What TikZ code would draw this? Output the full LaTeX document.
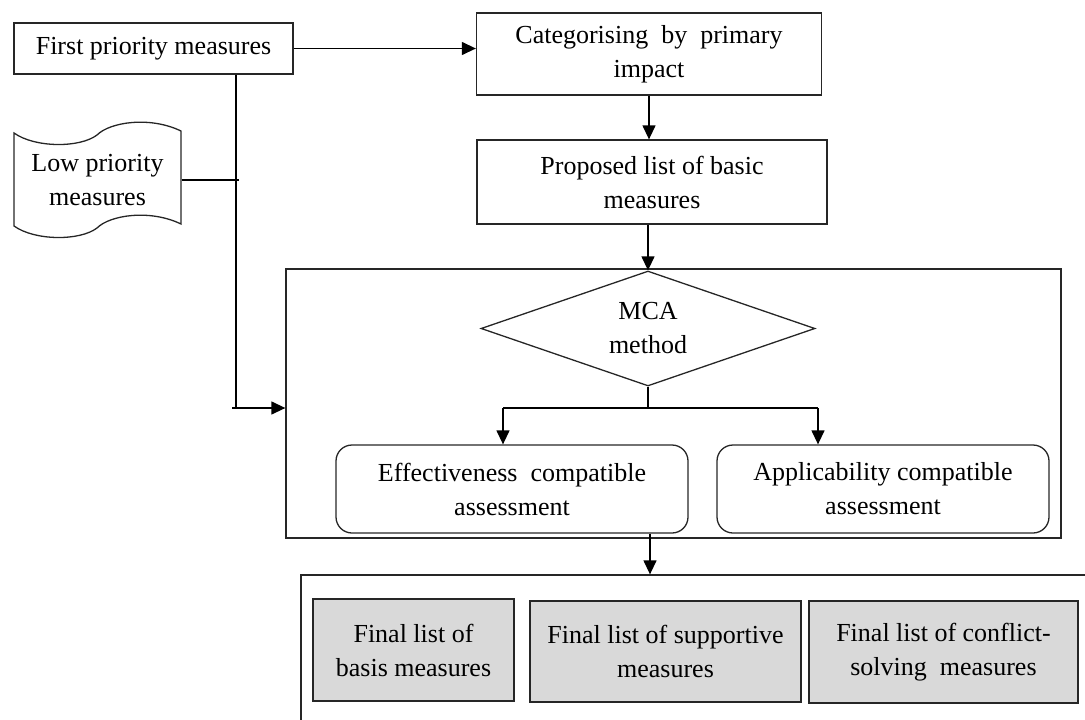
\documentclass[tikz,border=0pt]{standalone}
\usepackage{fontspec}
\setmainfont{Liberation Serif}
\usetikzlibrary{arrows.meta,shapes.geometric}
\begin{document}
\begin{tikzpicture}[x=1pt,y=-1pt,
  font=\fontsize{26}{34}\selectfont,
  line width=1.3pt,
  box/.style={draw=black!85,rectangle,inner sep=0pt,align=center},
  rbox/.style={box,rounded corners=16pt},
  gbox/.style={box,fill=black!15},
  link/.style={draw=black,line width=1.3pt},
  arrow/.style={link,-{Triangle[length=14pt,width=13pt]}}]
\useasboundingbox (0,0) rectangle (1085,720);
\clip (0,0) rectangle (1085,720);

% top row
\node[box,minimum width=279pt,minimum height=51pt] (fp) at (153.5,48.5) {First priority measures};
\node[box,minimum width=345pt,minimum height=82pt] (cat) at (649,54) {Categorising\ \ by\ \ primary\\impact};
\node[box,minimum width=350pt,minimum height=84pt] (prop) at (652,182) {Proposed list of basic\\measures};

% low priority stored data, drawn as a waving tape
\node[inner sep=0pt,minimum width=167pt,minimum height=90pt,align=center] (lp) at (97.5,180) {Low priority\\measures};
\draw[draw=black!85] (14,133) .. controls (35,148) and (80,148) .. (97,135)
  .. controls (110,122) and (150,116) .. (181,131) -- (181,224)
  .. controls (150,209) and (110,215) .. (97,228)
  .. controls (80,241) and (35,241) .. (14,226) -- cycle;

% MCA frame
\node[box,minimum width=775pt,minimum height=269pt] (frame) at (673.5,403.5) {};
\node[diamond,shape aspect=2.9,draw=black!85,inner sep=0pt,minimum width=334pt,minimum height=115pt,align=center] (dia) at (648,328.5) {MCA\\method};
\node[rbox,minimum width=352pt,minimum height=88pt] (eff) at (512,489) {Effectiveness\ \ compatible\\assessment};
\node[rbox,minimum width=332pt,minimum height=88pt] (app) at (883,489) {Applicability compatible\\assessment};
\coordinate (split) at (648,408);
\coordinate (sl) at (503,408);
\coordinate (sr) at (818,408);

% results frame
\node[box,minimum width=800pt,minimum height=170pt] (res) at (701,660) {};
\node[gbox,minimum width=201pt,minimum height=102pt] (f1) at (413.5,650) {Final list of\\basis measures};
\node[gbox,minimum width=271pt,minimum height=101pt] (f2) at (665.5,651.5) {Final list of supportive\\measures};
\node[gbox,minimum width=269pt,minimum height=102pt] (f3) at (943.5,652) {Final list of conflict-\\solving\ \ measures};

% connectors
\coordinate (tj) at (236,408);
\draw[arrow] (fp.east) -- (fp.east -| cat.west);
\draw[arrow] (cat.south) -- (cat.south |- prop.north);
\draw[arrow] (dia.north |- prop.south) -- (dia.north);
\draw[link] (fp.south -| tj) -- (tj);
\draw[link] (lp.east) -- ++(57,0);
\draw[arrow] ([xshift=-4pt]tj) -- (tj -| frame.west);
\draw[link] (dia.south) -- (split);
\draw[link] (sl) -- (sr);
\draw[arrow] (sl) -- (sl |- eff.north);
\draw[arrow] (sr) -- (sr |- app.north);
\draw[arrow] (eff.south -| 650,0) -- (650,0 |- res.north);
\end{tikzpicture}
\end{document}
